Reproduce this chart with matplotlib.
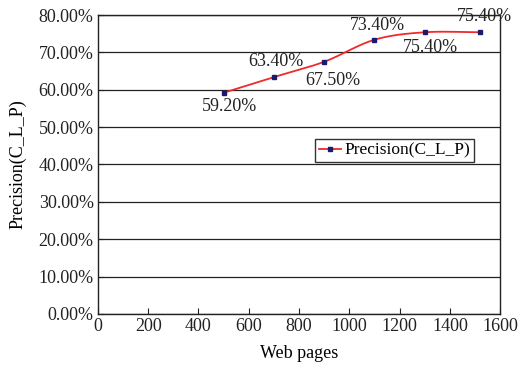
import numpy as np
import matplotlib
matplotlib.use("Agg")
import matplotlib.pyplot as plt
from matplotlib.ticker import FuncFormatter

plt.rcParams["font.family"] = ["Liberation Serif", "DejaVu Serif"]

pages = [500, 700, 900, 1100, 1300, 1520]
precision = [59.2, 63.4, 67.5, 73.4, 75.4, 75.4]
labels = ["59.20%", "63.40%", "67.50%", "73.40%", "75.40%", "75.40%"]
# label offsets (points)
offsets = [(4, -4), (1.5, 5), (6, -7), (2, 4), (4, -5), (3, 5)]


def smooth(x, y, n=30):
    # Catmull-Rom spline through the points, like Excel's smoothed line
    x = np.asarray(x, float)
    y = np.asarray(y, float)
    px = np.concatenate([[2 * x[0] - x[1]], x, [2 * x[-1] - x[-2]]])
    py = np.concatenate([[2 * y[0] - y[1]], y, [2 * y[-1] - y[-2]]])
    xs, ys = [], []
    t = np.linspace(0, 1, n)
    for i in range(1, len(px) - 2):
        for p, out in ((px, xs), (py, ys)):
            p0, p1, p2, p3 = p[i - 1], p[i], p[i + 1], p[i + 2]
            out.extend(0.5 * ((2 * p1) + (-p0 + p2) * t
                              + (2 * p0 - 5 * p1 + 4 * p2 - p3) * t ** 2
                              + (-p0 + 3 * p1 - 3 * p2 + p3) * t ** 3))
    return np.array(xs), np.array(ys)


fig = plt.figure(figsize=(5.26, 3.68), dpi=100)
ax = fig.add_axes([0.186, 0.147, 0.765, 0.812])

sx, sy = smooth(pages, precision)
ax.plot(sx, sy, color="#ee2a2a", lw=1.3, zorder=3)
ax.plot(pages, precision, ls="none", marker="s", ms=3, color="#1a1a6e", zorder=4)
ax.plot([], [], color="#ee2a2a", lw=1.3, marker="s", ms=3, mfc="#1a1a6e",
        mec="#1a1a6e", label="Precision(C_L_P)")

for x, y, s, off in zip(pages, precision, labels, offsets):
    ax.annotate(s, (x, y), xytext=off, textcoords="offset points",
                ha="center", va="bottom" if off[1] > 0 else "top", fontsize=13,
                color="#222222", annotation_clip=False)

ax.set_xlim(0, 1600)
ax.set_ylim(0, 80)
ax.set_xticks(range(0, 1601, 200))
ax.set_yticks(range(0, 81, 10))
ax.yaxis.set_major_formatter(FuncFormatter(lambda v, p: "%.2f%%" % v))
ax.grid(axis="y", color="#222222", lw=0.9)
ax.tick_params(direction="in", labelsize=13, length=4, colors="#222222", pad=3)
for sp in ax.spines.values():
    sp.set_color("#222222")
    sp.set_linewidth(1.0)

ax.set_xlabel("Web pages", fontsize=13, labelpad=7)
ax.set_ylabel("Precision(C_L_P)", fontsize=13, labelpad=9)

leg = ax.legend(loc="upper left", bbox_to_anchor=(0.54, 0.585), fontsize=12.5,
                frameon=True, fancybox=False, handlelength=1.3,
                borderpad=0.2, handletextpad=0.2, borderaxespad=0)
leg.get_frame().set_edgecolor("black")
leg.get_frame().set_linewidth(1.0)

fig.savefig("out.png", dpi=100)
